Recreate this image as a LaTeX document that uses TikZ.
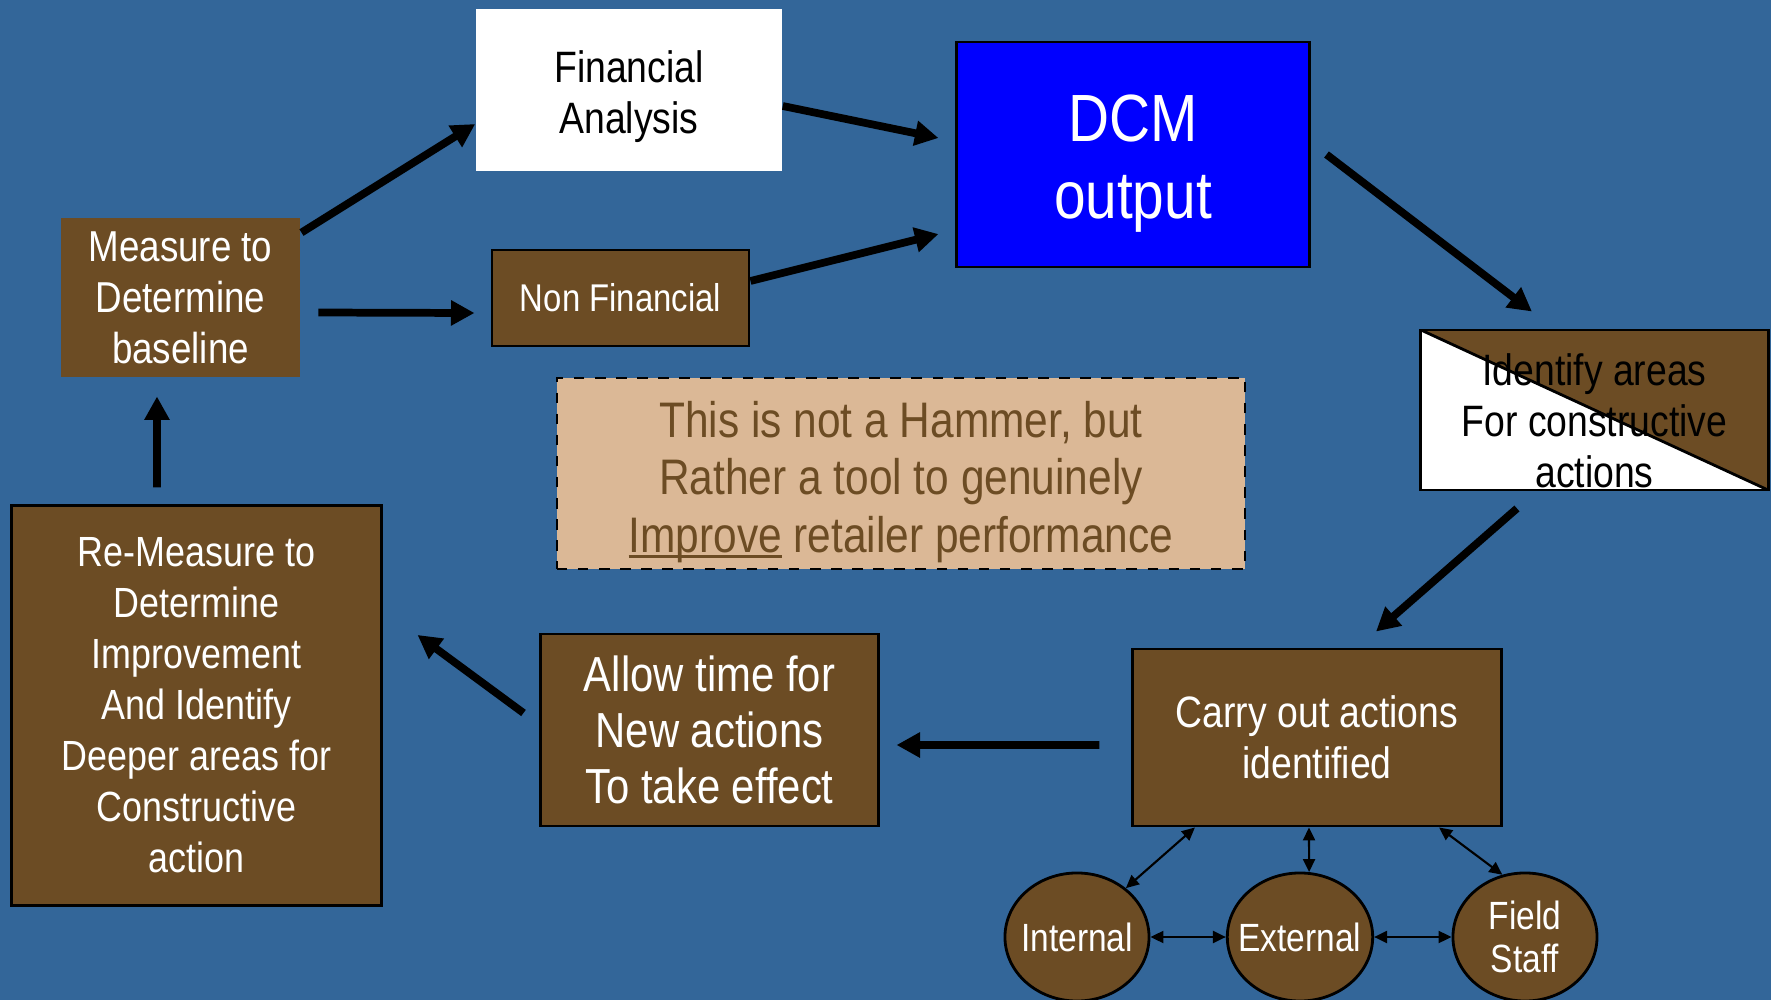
\documentclass[tikz,border=0pt]{standalone}
\usepackage{fontspec}
\setmainfont[FakeStretch=0.85]{Liberation Sans}
\usetikzlibrary{arrows.meta,shapes.geometric}
\definecolor{bg}{RGB}{51,102,153}
\definecolor{brn}{RGB}{108,76,36}
\definecolor{notefill}{RGB}{219,184,150}
% underline that sits close under the baseline
\newcommand{\ulword}[1]{\setbox0\hbox{#1}\rlap{\rule[-0.55mm]{\wd0}{0.28mm}}#1}
% taller first line, pushes the text block down a little
\newcommand{\drop}[1]{\rule{0pt}{#1}}
\begin{document}
\begin{tikzpicture}[x=0.01cm,y=-0.01cm,
    box/.style={fill=brn,draw=black,line width=0.8pt,text=white,align=center,inner sep=0pt},
    bigarrow/.style={line width=2.2pt,-{Triangle[length=2.35mm,width=2.4mm]}},
    smallarrow/.style={line width=0.6pt,{Triangle[length=1.3mm,width=1.2mm]}-{Triangle[length=1.3mm,width=1.2mm]}},
    blob/.style={ellipse,fill=brn,draw=black,line width=0.8pt,text=white,align=center,
        minimum width=1.44cm,minimum height=1.28cm,inner xsep=-1mm,inner ysep=0pt,
        font=\fontsize{11.2}{12.2}\selectfont}]
    \useasboundingbox (0,0) rectangle (1771,1000);
    \clip (0,0) rectangle (1771,1000);
    \fill[bg] (0,0) rectangle (1771,1000);
    % top row
    \node[fill=white,align=center,minimum width=3.06cm,minimum height=1.62cm,
        font=\fontsize{12.5}{14.5}\selectfont] (fin) at (629,90) {\drop{4.6mm}Financial\\Analysis};
    \node[fill=blue,draw=black,line width=0.8pt,text=white,align=center,minimum width=3.52cm,
        minimum height=2.25cm,font=\fontsize{19}{22}\selectfont] (dcm) at (1133,154.5) {\drop{6.5mm}DCM\\output};
    \node[box,draw=none,minimum width=2.39cm,minimum height=1.59cm,
        font=\fontsize{12.3}{14.5}\selectfont] (meas) at (180.5,297.5) {Measure to\\Determine\\baseline};
    \node[box,minimum width=2.57cm,minimum height=0.96cm,
        font=\fontsize{11}{13}\selectfont] (nonfin) at (620.5,298) {Non Financial};
    % note in the middle
    \node[fill=notefill,draw=black,dashed,line width=0.6pt,text=brn,align=center,inner ysep=0pt,
        minimum width=6.88cm,minimum height=1.91cm,font=\fontsize{14.2}{16.4}\selectfont]
        (note) at (901,473.5) {\drop{5.3mm}This is not a Hammer, but\\Rather a tool to genuinely\\\ulword{Improve} retailer performance};
    \node[fill=white,draw=black,line width=0.8pt,align=center,inner sep=0pt,
        minimum width=3.47cm,minimum height=1.6cm,font=\fontsize{12.5}{14.5}\selectfont,
        path picture={
            \fill[brn] (path picture bounding box.north west) -- (path picture bounding box.north east)
                -- (path picture bounding box.south east) -- cycle;
            \draw[line width=0.8pt] (path picture bounding box.north west) -- (path picture bounding box.south east);
        }] (ident) at (1594.5,410) {\drop{5.4mm}Identify areas\\For constructive\\actions};
    % bottom row
    \node[box,minimum width=3.68cm,minimum height=1.77cm,
        font=\fontsize{12.5}{14.5}\selectfont] (carry) at (1317,737.5) {Carry out actions\\identified};
    \node[box,minimum width=3.37cm,minimum height=1.92cm,
        font=\fontsize{14}{16}\selectfont] (allow) at (709.5,730) {Allow time for\\New actions\\To take effect};
    \node[box,minimum width=3.69cm,minimum height=3.99cm,
        font=\fontsize{12}{14.5}\selectfont] (remeas) at (196.5,705.5)
        {Re-Measure to\\Determine\\Improvement\\And Identify\\Deeper areas for\\Constructive\\action};
    \node[blob] (int) at (1077,937) {Internal};
    \node[blob] (ext) at (1300,937) {External};
    \node[blob] (field) at (1525,937) {Field\\Staff};
    % big arrows round the cycle
    \draw[bigarrow] ([yshift=-1.6mm]meas.north east) -- ([yshift=-3.4mm]fin.west);
    \draw[bigarrow] ([shift={(1.7mm,-1.5mm)}]meas.east) -- ([shift={(-1.6mm,-1.5mm)}]nonfin.west);
    \draw[bigarrow] ([yshift=-1.6mm]fin.east) -- ([shift={(-1.7mm,1.65mm)}]dcm.west);
    \draw[bigarrow] ([yshift=1.7mm]nonfin.east) -- ([shift={(-1.7mm,-7.95mm)}]dcm.west);
    \draw[bigarrow] ([xshift=1.6mm]dcm.east) -- ([shift={(-6.25mm,1.7mm)}]ident.north);
    \draw[bigarrow] ([shift={(-7.75mm,-1.7mm)}]ident.south) -- ([shift={(5.9mm,1.6mm)}]carry.north);
    \draw[bigarrow] ([shift={(-3.2mm,-0.75mm)}]carry.west) -- ([shift={(1.7mm,-1.5mm)}]allow.east);
    \draw[bigarrow] ([shift={(-1.6mm,1.7mm)}]allow.west) -- ([shift={(3.5mm,7.05mm)}]remeas.east);
    \draw[bigarrow] ([shift={(-3.95mm,1.7mm)}]remeas.north) -- ([shift={(-2.35mm,-1.8mm)}]meas.south);
    % small links to the circles
    \draw[smallarrow] ([xshift=-12.2mm]carry.south) -- (int.45);
    \draw[smallarrow] ([xshift=-0.8mm]carry.south) -- (ext.82);
    \draw[smallarrow] ([xshift=12.2mm]carry.south) -- (field.110);
    \draw[smallarrow] (int.east) -- (ext.west);
    \draw[smallarrow] (ext.east) -- (field.west);
\end{tikzpicture}
\end{document}
